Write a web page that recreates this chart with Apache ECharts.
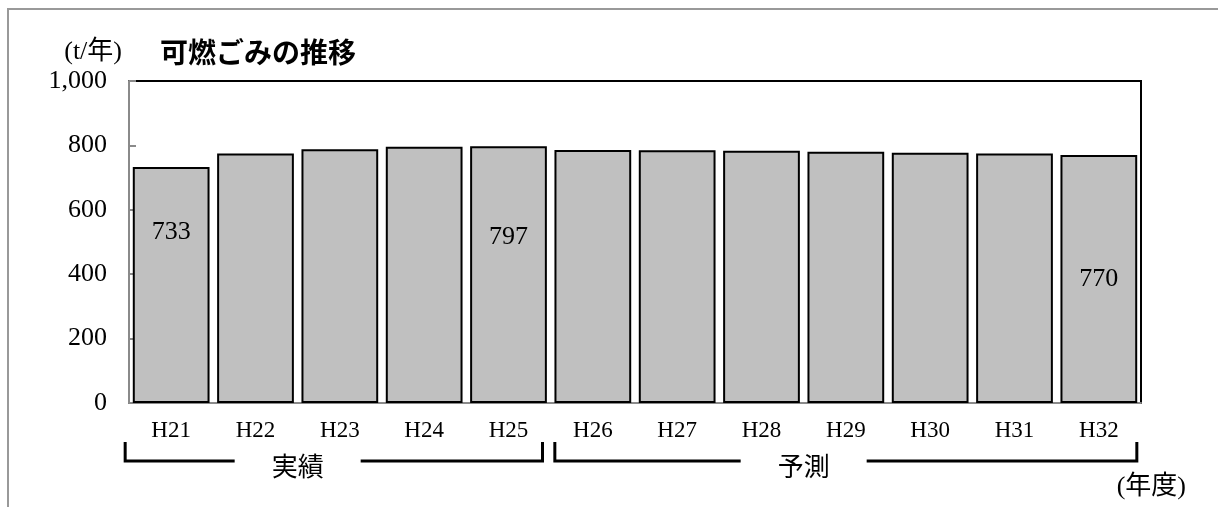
<!DOCTYPE html>
<html>
<head>
<meta charset="utf-8">
<script src="https://cdn.jsdelivr.net/npm/echarts@6/dist/echarts.min.js"></script>
<style>
  html, body { margin: 0; padding: 0; background: #fff; }
  #main { width: 1218px; height: 507px; }
</style>
</head>
<body>
<div id="main"></div>
<script>
// 可燃ごみの推移 (t/年)
var years = ['H21', 'H22', 'H23', 'H24', 'H25', 'H26', 'H27', 'H28', 'H29', 'H30', 'H31', 'H32'];
var amounts = [733, 775, 788, 796, 797, 786, 785, 783, 780, 777, 775, 770];
var labeledIdx = [0, 4, 11];
var yTicks = [0, 200, 400, 600, 800, 1000];
var periods = [
    { name: '実績', from: 0, to: 4 },
    { name: '予測', from: 5, to: 11 }
];

var serif = "'Liberation Serif', 'Noto Sans CJK JP', serif";
var gothic = "'Noto Sans CJK JP', sans-serif";

// where the value labels sit inside the bars (px from bar middle)
var labelOffset = { 0: -53, 4: -38, 11: 0 };

var myChart = echarts.init(document.getElementById('main'));

var barData = amounts.map(function (v, i) {
    var item = { value: v };
    if (labeledIdx.indexOf(i) >= 0) {
        item.label = {
            show: true,
            position: 'inside',
            offset: [0, labelOffset[i]],
            color: '#000',
            fontFamily: serif,
            fontSize: 26
        };
    }
    return item;
});

var option = {
    animation: false,
    grid: {
        left: 129,
        right: 77,
        top: 81,
        bottom: 104,
        show: true,
        borderColor: '#000',
        borderWidth: 2
    },
    xAxis: {
        type: 'category',
        data: years,
        axisLine: { lineStyle: { color: '#8a8a8a', width: 2 } },
        axisTick: { show: false },
        axisLabel: { color: '#000', fontFamily: serif, fontSize: 23, margin: 16 }
    },
    yAxis: {
        type: 'value',
        min: yTicks[0],
        max: yTicks[yTicks.length - 1],
        interval: yTicks[1] - yTicks[0],
        name: '(t/年)',
        nameLocation: 'end',
        nameGap: 29,
        nameTextStyle: {
            color: '#000', fontFamily: serif, fontSize: 26,
            align: 'right', verticalAlign: 'middle', padding: [0, 7, 0, 0]
        },
        splitLine: { show: false },
        axisLine: { show: true, lineStyle: { color: '#8a8a8a', width: 2 } },
        axisTick: { show: true, inside: true, length: 7, lineStyle: { color: '#8a8a8a', width: 2 } },
        axisLabel: {
            color: '#000', fontFamily: serif, fontSize: 26, margin: 22,
            formatter: function (v) { return echarts.format.addCommas(v); }
        }
    },
    series: [{
        type: 'bar',
        data: barData,
        barCategoryGap: '9%',
        itemStyle: { color: '#c0c0c0', borderColor: '#000', borderWidth: 2 }
    }]
};

myChart.setOption(option);

// annotations: frame, title, 年度, brackets under the axis
var c0 = myChart.convertToPixel({ xAxisIndex: 0 }, years[0]);
var band = myChart.convertToPixel({ xAxisIndex: 0 }, years[1]) - c0;
function cx(i) { return c0 + i * band; }

var pads = [[-46, 34], [-38, 38]];
var textAt = [1.5, 7.5];
var gapHalf = 63;
var yTop = 442, yLine = 461;

var graphics = [
    {
        type: 'rect', silent: true,
        shape: { x: 8, y: 9, width: 1400, height: 700 },
        style: { fill: 'none', stroke: '#999', lineWidth: 2 }
    },
    {
        type: 'text', x: 160, y: 52,
        style: {
            text: '可燃ごみの推移', fill: '#000', font: 'bold 28px ' + gothic,
            textAlign: 'left', textVerticalAlign: 'middle'
        }
    },
    {
        type: 'text', x: 1186, y: 487,
        style: {
            text: '(年度)', fill: '#000', font: '26px ' + serif,
            textAlign: 'right', textVerticalAlign: 'middle'
        }
    }
];

periods.forEach(function (p, k) {
    var x0 = cx(p.from) + pads[k][0];
    var x1 = cx(p.to) + pads[k][1];
    var tx = cx(0) + textAt[k] * band;
    var ls = { stroke: '#000', lineWidth: 3, fill: 'none' };
    graphics.push({
        type: 'polyline', silent: true,
        shape: { points: [[x0, yTop], [x0, yLine], [tx - gapHalf, yLine]] },
        style: ls
    });
    graphics.push({
        type: 'polyline', silent: true,
        shape: { points: [[tx + gapHalf, yLine], [x1, yLine], [x1, yTop]] },
        style: ls
    });
    graphics.push({
        type: 'text', x: tx, y: 469,
        style: {
            text: p.name, fill: '#000', font: '26px ' + serif,
            textAlign: 'center', textVerticalAlign: 'middle'
        }
    });
});

myChart.setOption({ graphic: graphics });
</script>
</body>
</html>
